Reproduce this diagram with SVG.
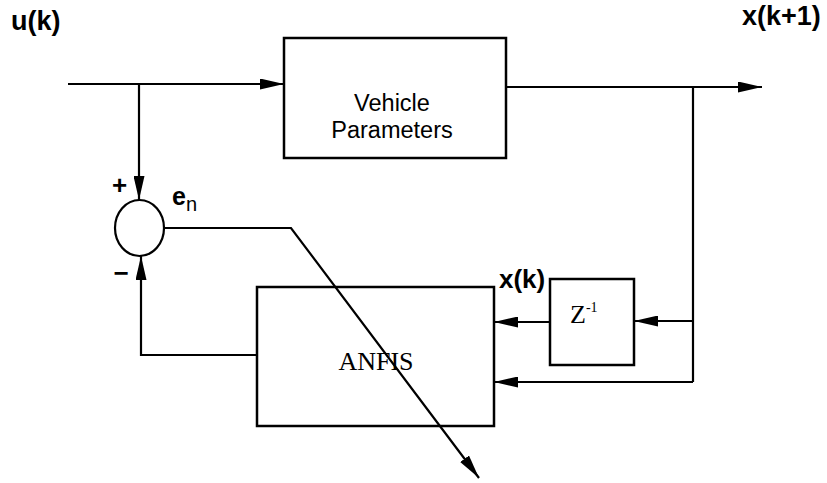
<svg xmlns="http://www.w3.org/2000/svg" width="827" height="483" viewBox="0 0 827 483">
<style>
.ln{fill:none;stroke:#000;stroke-width:2.2}
.bx{fill:none;stroke:#000;stroke-width:2.5}
.lbl{font-family:"Liberation Sans",Arial,sans-serif;font-weight:bold;fill:#000}
.sans{font-family:"Liberation Sans",Arial,sans-serif;fill:#000}
.serif{font-family:"Liberation Serif","Times New Roman",serif;fill:#000}
</style>
<defs>
<marker id="ah" markerUnits="userSpaceOnUse" markerWidth="25" markerHeight="11" refX="24" refY="5.5" orient="auto">
<path d="M0,0 L24,5.5 L0,11 z" fill="#000"/>
</marker>
</defs>
<rect width="827" height="483" fill="#fff"/>
<g id="vehicle">
<rect class="bx" x="284" y="38" width="222" height="120"/>
<text class="sans" font-size="23.5" x="392" y="111" text-anchor="middle">Vehicle</text>
<text class="sans" font-size="23.5" x="392" y="138" text-anchor="middle">Parameters</text>
</g>
<g id="sum">
<ellipse class="ln" cx="139.5" cy="228" rx="24.5" ry="28"/>
<text class="lbl" font-size="26" x="119.5" y="194" text-anchor="middle">+</text>
<text class="lbl" font-size="26" x="121" y="282" text-anchor="middle">−</text>
</g>
<g id="anfis">
<rect class="bx" x="257" y="287" width="237" height="139"/>
<text class="serif" font-size="26" x="376" y="370" text-anchor="middle">ANFIS</text>
</g>
<g id="delay">
<rect class="bx" x="550" y="279" width="84" height="86"/>
<text class="serif" font-size="26" x="570" y="323">Z<tspan font-size="14" dy="-11">-1</tspan></text>
</g>
<g id="labels">
<text class="lbl" font-size="27" x="11" y="30">u(k)</text>
<text class="lbl" font-size="27" x="742" y="25">x(k+1)</text>
<text class="lbl" font-size="26" x="499" y="288">x(k)</text>
<text class="lbl" font-size="25" x="172" y="205">e<tspan class="sans" font-weight="normal" font-size="20" dy="6">n</tspan></text>
</g>
<g id="connectors">
<line class="ln" x1="68" y1="84" x2="284" y2="84" marker-end="url(#ah)"/>
<line class="ln" x1="139" y1="85" x2="139" y2="200" marker-end="url(#ah)"/>
<line class="ln" x1="506" y1="87" x2="762" y2="87" marker-end="url(#ah)"/>
<polyline class="ln" points="693,87 693,382"/>
<line class="ln" x1="693" y1="321" x2="634" y2="321" marker-end="url(#ah)"/>
<line class="ln" x1="550" y1="322" x2="494" y2="322" marker-end="url(#ah)"/>
<line class="ln" x1="693" y1="382" x2="494" y2="382" marker-end="url(#ah)"/>
<polyline class="ln" points="257,355 141,355 141,256" marker-end="url(#ah)"/>
<polyline class="ln" points="164,228 291,228 479,478" marker-end="url(#ah)"/>
</g>
</svg>
